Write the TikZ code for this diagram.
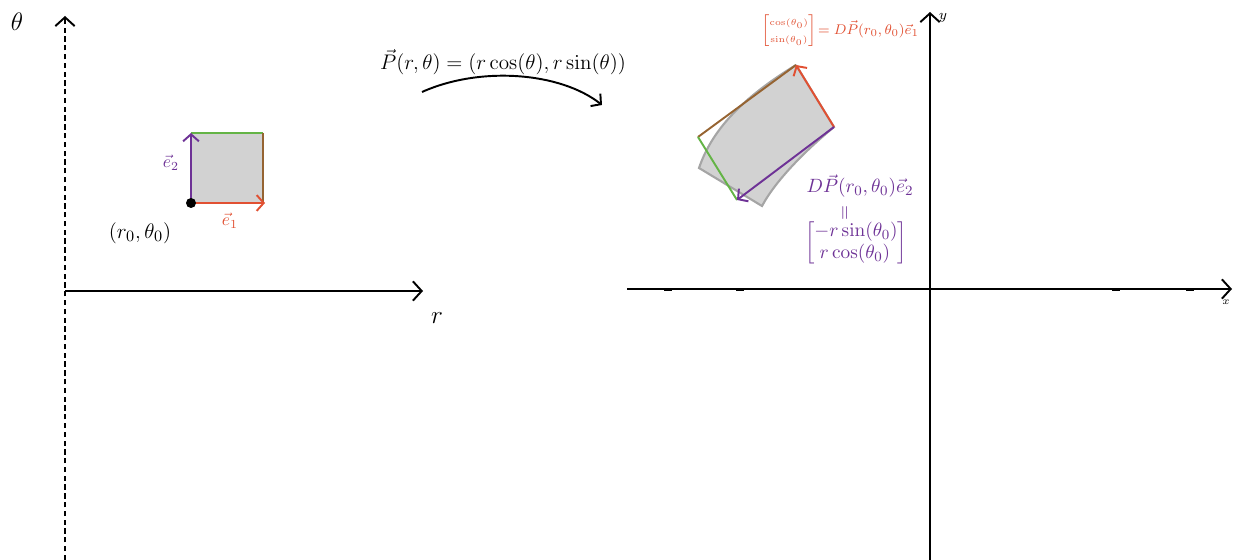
\documentclass[tikz,border=0pt]{standalone}
\usetikzlibrary{arrows.meta}
\definecolor{vred}{RGB}{225,80,50}
\definecolor{vpurple}{RGB}{110,50,150}
\definecolor{vgreen}{RGB}{100,180,70}
\definecolor{vbrown}{RGB}{150,100,50}
\definecolor{fillgray}{RGB}{210,210,210}
\definecolor{edgegray}{RGB}{165,165,165}
\begin{document}
\begin{tikzpicture}[x=0.02cm,y=-0.02cm,
  axis/.style={line width=1.1pt,-{Straight Barb[length=5pt,width=11pt,line width=1.1pt]}},
  vec/.style={line width=1.1pt,-{Straight Barb[length=4pt,width=9pt,line width=1.1pt]}},
  edge/.style={line width=1.1pt},
  lbl/.style={inner sep=0pt,font=\fontsize{11}{13}\selectfont}]
\useasboundingbox (0,0) rectangle (1235,560);
% ---------- left axes
\coordinate (Lo) at (65,291);
\coordinate (Ltop) at (65,16);
\coordinate (Lbot) at (65,560);
\coordinate (Lright) at (423,291);
\draw[axis,dash pattern=on 3pt off 2pt] (Lbot) -- (Ltop);
\draw[axis] (Lo) -- (Lright);
\node[lbl,font=\fontsize{15}{17}\selectfont] (thetalab) at (17,22) {$\theta$};
\node[lbl,font=\fontsize{15}{17}\selectfont] (rlab) at (437,318) {$r$};
% ---------- square
\coordinate (S0) at (191,203);
\coordinate (S1) at (265,203);
\coordinate (S2) at (191,133);
\coordinate (S3) at (263,133);
\coordinate (S4) at (263,203);
\fill[fillgray] (S0) rectangle (S3);
\draw[edge,vgreen] (S2) -- (S3);
\draw[edge,vbrown] (S3) -- (S4);
\draw[vec,vred] (S0) -- (S1);
\draw[vec,vpurple] (S0) -- (S2);
\fill (S0) circle (5);
\node[lbl,text=vred,font=\fontsize{10}{12}\selectfont] (e1) at (230,221) {$\vec e_1$};
\node[lbl,text=vpurple,font=\fontsize{10}{12}\selectfont] (e2) at (171,163) {$\vec e_2$};
\node[lbl,font=\fontsize{13}{15}\selectfont] (base) at (140,233) {$(r_0,\theta_0)$};
% ---------- map
\node[lbl,font=\fontsize{12}{14}\selectfont] (map) at (503,62) {$\vec P(r,\theta)=(r\cos(\theta),r\sin(\theta)\big)$};
\coordinate (A0) at (422,92);
\coordinate (A1) at (602,105);
\draw[vec] (A0) .. controls (480,66) and (560,72) .. (A1);
% ---------- right axes
\coordinate (O) at (930,289);
\coordinate (Xl) at (627,289);
\coordinate (Xr) at (1232,289);
\coordinate (Yb) at (930,560);
\coordinate (Yt) at (930,12);
\draw[axis] (Xl) -- (Xr);
\draw[axis] (Yb) -- (Yt);
\foreach \t in {668,740,1116,1190} \draw[line width=1.3pt] (\t-4,290) -- (\t+4,290);
\node[lbl,font=\fontsize{6}{7}\selectfont] (xlab) at (1226,302) {$x$};
\node[lbl,font=\fontsize{8}{9}\selectfont] (ylab) at (943,18) {$y$};
% ---------- image of the square
\coordinate (B) at (834,127);
\coordinate (R) at (796,65);
\coordinate (Q) at (737,200);
\coordinate (C) at (698,137);
\coordinate (G1) at (762,206);
\coordinate (G2) at (699,168);
\filldraw[fill=fillgray,draw=edgegray,line width=1.2pt]
  (R) -- (B) .. controls (806,150) and (776,180) .. (G1)
  -- (G2) .. controls (712,130) and (742,98) .. (R);
\draw[edge,vbrown] (R) -- (C);
\draw[edge,vgreen] (C) -- (Q);
\draw[vec,vred] (B) -- (R);
\draw[vec,vpurple] (B) -- (Q);
% ---------- labels
\node[lbl,text=vred,anchor=west,font=\fontsize{8}{10}\selectfont] (redlab) at (761,31)
  {$\left[\renewcommand{\arraystretch}{0.95}\begin{array}{@{}c@{}}\scriptscriptstyle\cos(\theta_0)\\ \scriptscriptstyle\sin(\theta_0)\end{array}\right]\!= D\vec P(r_0,\theta_0)\vec e_1$};
\node[lbl,text=vpurple] (purlab) at (860,186) {$D\vec P(r_0,\theta_0)\vec e_2$};
\node[lbl,text=vpurple,rotate=90] (pureq) at (846,213) {$=$};
\node[lbl,text=vpurple] (purmat) at (856,243)
  {$\left[\begin{array}{@{}l@{}}-r\sin(\theta_0)\\ \;r\cos(\theta_0)\end{array}\right]$};
\end{tikzpicture}
\end{document}
